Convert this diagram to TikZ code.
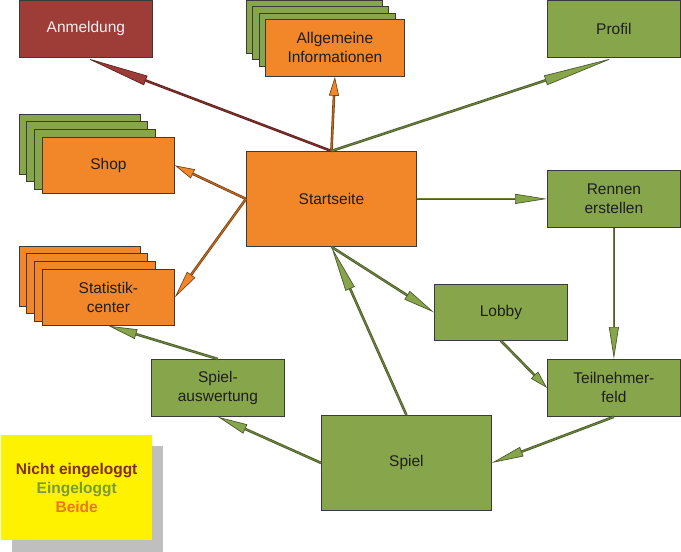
\documentclass[tikz,border=0pt]{standalone}
\usepackage{fontspec}
\setmainfont{Liberation Sans}
\usetikzlibrary{arrows.meta}
\definecolor{gruen}{HTML}{87A54A}
\definecolor{orng}{HTML}{F28729}
\definecolor{rot}{HTML}{9E3C37}
\definecolor{gruendunkel}{HTML}{4B5A2B}
\definecolor{orngdunkel}{HTML}{7A4214}
\definecolor{rotdunkel}{HTML}{5E221E}
\definecolor{rand}{HTML}{3A3A3A}
\definecolor{schrift}{HTML}{1E1E1E}
\definecolor{legrot}{HTML}{7F2E24}
\definecolor{leggruen}{HTML}{7B993D}
\definecolor{legorng}{HTML}{EA781E}
\newcommand{\schrift}{\fontsize{15.5}{19}\selectfont}
\tikzset{
 kasten/.style={draw=rand, line width=0.8pt, inner sep=0pt, align=center, anchor=north west, text=schrift, font=\schrift},
 hinten/.style={draw=rand, line width=0.8pt},
 pfeil/.style n args={3}{draw=#1, double=#2!80!black, double distance=1pt, line width=0.8pt,
   -{Triangle[length=#3, width=10pt, fill=#2, line width=0.7pt]}}
}

\begin{document}
\begin{tikzpicture}[x=1pt,y=-1pt]
\useasboundingbox (0,0) rectangle (681,552);

% gestapelte Seiten
\foreach \i in {0,1,2} {
 \draw[hinten, fill=gruen] ({246+6.5*\i},{0+6.6*\i}) rectangle ++(136,53);
 \draw[hinten, fill=gruen] ({19+7.6*\i},{114+7.6*\i}) rectangle ++(121,60);
 \draw[hinten, fill=orng] ({19+7.6*\i},{246+7.6*\i}) rectangle ++(121,60);
 }

\node[kasten, fill=rot, text=white!94!black, minimum width=133pt, minimum height=57pt] (anm) at (19,0) {Anmeldung};
\node[kasten, fill=orng, minimum width=139pt, minimum height=57pt] (allg) at (265,19) {Allgemeine\\Informationen};
\node[kasten, fill=gruen, minimum width=133pt, minimum height=57pt] (profil) at (547,0) {Profil};
\node[kasten, fill=orng, minimum width=132pt, minimum height=56pt] (shop) at (42,137) {Shop};
\node[kasten, fill=orng, minimum width=132pt, minimum height=56pt] (stat) at (42,269) {Statistik-\\center};
\node[kasten, fill=orng, minimum width=170pt, minimum height=95pt] (start) at (246,151) {Startseite};
\node[kasten, fill=gruen, minimum width=133pt, minimum height=57pt] (rennen) at (547,170) {Rennen\\erstellen};
\node[kasten, fill=gruen, minimum width=133pt, minimum height=56pt] (lobby) at (434,284) {Lobby};
\node[kasten, fill=gruen, minimum width=133pt, minimum height=57pt] (teil) at (547,359) {Teilnehmer-\\feld};
\node[kasten, fill=gruen, minimum width=133pt, minimum height=57pt] (ausw) at (151,359) {Spiel-\\auswertung};
\node[kasten, fill=gruen, minimum width=170pt, minimum height=95pt] (spiel) at (321,415) {Spiel};

% Legende
\fill[black!25] (12,446) rectangle ++(151,106);
\node[anchor=north west, fill=yellow, minimum width=151pt, minimum height=105pt, inner sep=0pt, align=center,
 font=\schrift\bfseries] (legende) at (1,435)
 {\textcolor{legrot}{Nicht eingeloggt}\\\textcolor{leggruen}{Eingeloggt}\\\textcolor{legorng}{Beide}};

\draw[pfeil={rotdunkel}{rot}{64pt}] (start.north) -- (anm.south);
\draw[pfeil={orngdunkel}{orng}{19pt}] (start.north) -- (allg.south);
\draw[pfeil={gruendunkel}{gruen}{72pt}] (start.north) -- (profil.south);
\draw[pfeil={orngdunkel}{orng}{20pt}] (start.west) -- (shop.east);
\draw[pfeil={orngdunkel}{orng}{28pt}] (start.west) -- (stat.east);
\draw[pfeil={gruendunkel}{gruen}{32pt}] (start.east) -- (rennen.west);
\draw[pfeil={gruendunkel}{gruen}{32pt}] (rennen.south) -- (teil.north);
\draw[pfeil={gruendunkel}{gruen}{32pt}] (start.south) -- (lobby.west);
\draw[pfeil={gruendunkel}{gruen}{18pt}] (lobby.south) -- (teil.west);
\draw[pfeil={gruendunkel}{gruen}{46pt}] (spiel.north) -- (start.south);
\draw[pfeil={gruendunkel}{gruen}{32pt}] (teil.south) -- (spiel.east);
\draw[pfeil={gruendunkel}{gruen}{30pt}] (spiel.west) -- (ausw.south);
\draw[pfeil={gruendunkel}{gruen}{29pt}] (ausw.north) -- (stat.south);
\end{tikzpicture}
\end{document}
